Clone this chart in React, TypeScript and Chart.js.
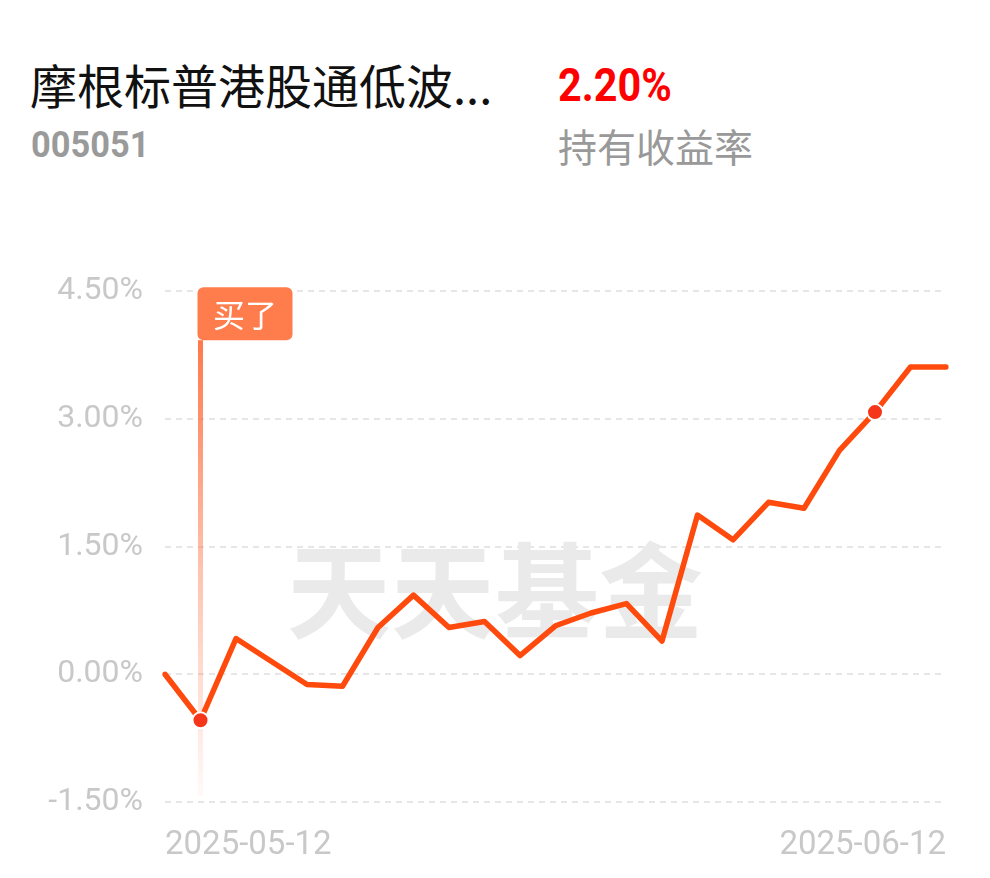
import React, { useEffect, useRef } from "react";
import { Chart, registerables } from "chart.js";

Chart.register(...registerables);

const dates: string[] = [
  "2025-05-12", "2025-05-13", "2025-05-14", "2025-05-15", "2025-05-16",
  "2025-05-19", "2025-05-20", "2025-05-21", "2025-05-22", "2025-05-23",
  "2025-05-26", "2025-05-27", "2025-05-28", "2025-05-29", "2025-05-30",
  "2025-06-03", "2025-06-04", "2025-06-05", "2025-06-06",
  "2025-06-09", "2025-06-10", "2025-06-11", "2025-06-12",
];

const returns: number[] = [
  0.0, -0.54, 0.42, 0.15, -0.12, -0.14, 0.55, 0.93, 0.55, 0.62,
  0.22, 0.57, 0.72, 0.83, 0.39, 1.87, 1.58, 2.02, 1.95, 2.63,
  3.08, 3.61, 3.61,
];

const yTicks: number[] = [-1.5, 0, 1.5, 3, 4.5];
const markedIdx: number[] = [1, 20];
const buyIdx = 1;
const buyLabel = "买了";
const watermark = "天天基金";

const fundName = "摩根标普港股通低波...";
const fundCode = "005051";
const holdReturn = "2.20%";
const holdReturnLabel = "持有收益率";

const CANVAS_TOP = 250;

export default function App() {
  const ref = useRef<HTMLCanvasElement | null>(null);

  useEffect(() => {
    if (!ref.current) return;
    const markerPlugin = {
      id: "marker",
      beforeDatasetsDraw(chart: any) {
        const ctx = chart.ctx;
        // watermark
        ctx.save();
        ctx.font = 'bold 104px "Noto Sans CJK SC"';
        ctx.fillStyle = "#eaeaea";
        ctx.textAlign = "center";
        ctx.textBaseline = "middle";
        ctx.fillText(watermark, 495, 591 - CANVAS_TOP);
        ctx.restore();
        // buy vertical line
        const xs = chart.scales.x;
        const ys = chart.scales.y;
        const x = xs.getPixelForValue(buyIdx);
        const top = ys.getPixelForValue(yTicks[yTicks.length - 1]) - 4 + 53;
        const bottom = ys.getPixelForValue(yTicks[0]) - 6;
        const g = ctx.createLinearGradient(0, top, 0, bottom);
        g.addColorStop(0, "rgba(255,120,75,1)");
        g.addColorStop(0.5, "rgba(255,120,75,0.45)");
        g.addColorStop(1, "rgba(255,120,75,0.04)");
        ctx.save();
        ctx.fillStyle = g;
        ctx.fillRect(x - 2.5, top, 5, bottom - top);
        ctx.restore();
      },
      afterDatasetsDraw(chart: any) {
        const ctx = chart.ctx;
        const xs = chart.scales.x;
        const ys = chart.scales.y;
        const x = xs.getPixelForValue(buyIdx);
        const bx = x - 3;
        const by = ys.getPixelForValue(yTicks[yTicks.length - 1]) - 4;
        const bw = 95;
        const bh = 53;
        ctx.save();
        ctx.fillStyle = "#ff7d4c";
        ctx.beginPath();
        ctx.roundRect(bx, by, bw, bh, 6);
        ctx.fill();
        ctx.fillStyle = "#ffffff";
        ctx.font = '32px "Noto Sans CJK SC"';
        ctx.textAlign = "center";
        ctx.textBaseline = "middle";
        ctx.fillText(buyLabel, bx + bw / 2, by + bh / 2 + 1);
        ctx.restore();
      },
    };

    const chart = new Chart(ref.current, {
      type: "line",
      data: {
        labels: dates,
        datasets: [
          {
            data: returns,
            borderColor: "#ff4a0d",
            borderWidth: 5.5,
            tension: 0,
            borderJoinStyle: "round",
            borderCapStyle: "round",
            fill: false,
            pointRadius: (c: any) => (markedIdx.includes(c.dataIndex) ? 8 : 0),
            pointHoverRadius: 0,
            pointBackgroundColor: "#f5361a",
            pointBorderColor: "#ffffff",
            pointBorderWidth: 2,
          },
        ],
      },
      options: {
        animation: false,
        responsive: false,
        devicePixelRatio: 1,
        layout: { padding: { top: 37, right: 44, bottom: 0, left: 0 } },
        plugins: { legend: { display: false }, tooltip: { enabled: false } },
        scales: {
          x: {
            type: "category",
            offset: false,
            grid: { display: false },
            border: { display: false },
            ticks: {
              autoSkip: false,
              maxRotation: 0,
              minRotation: 0,
              align: "inner",
              padding: 16,
              color: "#c8c8c8",
              font: { family: "Roboto", size: 33 },
              callback: (_v: any, i: number) =>
                i === 0 || i === dates.length - 1 ? dates[i] : "",
            },
            afterFit: (s: any) => {
              s.height = 76;
            },
          },
          y: {
            min: yTicks[0],
            max: yTicks[yTicks.length - 1],
            grid: { color: "#e6e6e6", lineWidth: 2, drawTicks: false },
            border: { display: false, dash: [6, 5] },
            afterBuildTicks: (s: any) => {
              s.ticks = yTicks.map((v) => ({ value: v }));
            },
            ticks: {
              padding: 22,
              color: "#c8c8c8",
              font: { family: "Roboto", size: 32 },
              callback: (v: any) => Number(v).toFixed(2) + "%",
            },
            afterFit: (s: any) => {
              s.width = 165;
            },
          },
        },
      },
      plugins: [markerPlugin],
    } as any);
    return () => chart.destroy();
  }, []);

  const base: React.CSSProperties = {
    position: "absolute",
    whiteSpace: "nowrap",
    lineHeight: 1,
    margin: 0,
  };

  return (
    <div
      style={{
        position: "absolute",
        left: 0,
        top: 0,
        width: 990,
        height: 878,
        background: "#fff",
        overflow: "hidden",
      }}
    >
      <div
        style={{
          ...base,
          left: 30,
          top: 60,
          fontFamily: '"Noto Sans CJK SC"',
          fontSize: 47,
          color: "#111",
        }}
      >
        {fundName}
      </div>
      <div
        style={{
          ...base,
          left: 31,
          top: 126,
          fontFamily: "Roboto",
          fontWeight: 700,
          fontSize: 37,
          color: "#9a9a9a",
          transform: "scaleX(0.93)",
          transformOrigin: "left top",
        }}
      >
        {fundCode}
      </div>
      <div
        style={{
          ...base,
          left: 558,
          top: 61,
          fontFamily: "Roboto",
          fontWeight: 700,
          fontSize: 47,
          color: "#f00",
          transform: "scaleX(0.88)",
          transformOrigin: "left top",
        }}
      >
        {holdReturn}
      </div>
      <div
        style={{
          ...base,
          left: 558,
          top: 126,
          fontFamily: '"Noto Sans CJK SC"',
          fontSize: 39,
          color: "#999",
        }}
      >
        {holdReturnLabel}
      </div>
      <canvas
        ref={ref}
        width={990}
        height={628}
        style={{ position: "absolute", left: 0, top: CANVAS_TOP, width: 990, height: 628 }}
      />
    </div>
  );
}
